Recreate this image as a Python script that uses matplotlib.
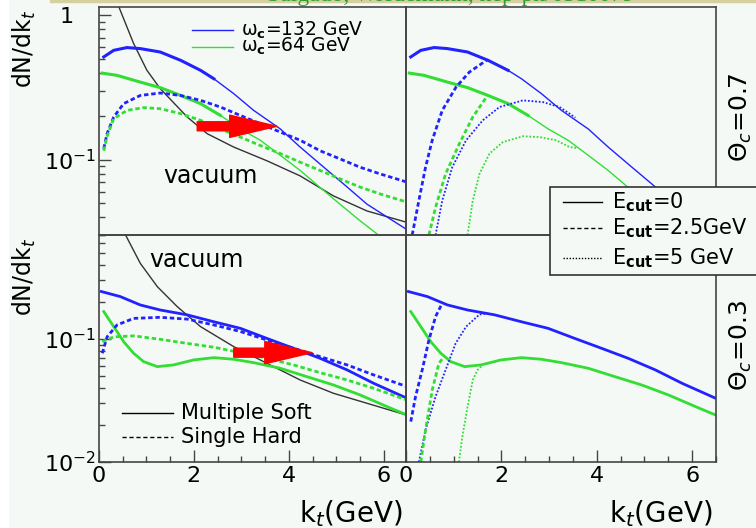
import numpy as np
import matplotlib
matplotlib.use('Agg')
import matplotlib.pyplot as plt
from matplotlib.patches import Rectangle
from matplotlib.lines import Line2D
from matplotlib.ticker import MultipleLocator, LogLocator, NullFormatter

plt.rcParams['font.family'] = ['DejaVu Sans']
plt.rcParams['mathtext.fontset'] = 'dejavusans'

# ---- data (k_t in GeV, dN/dk_t) ----
# upper row (Theta_c = 0.7)
k_vac_top = [0.42, 0.73, 1.01, 1.29, 1.86, 2.28, 2.84, 3.54, 4.24, 4.94, 5.65, 6.49]
vac_top = [1.14, 0.636, 0.415, 0.31, 0.197, 0.151, 0.122, 0.098, 0.077, 0.056, 0.044, 0.0367]
k_ms132_top = [0.10, 0.31, 0.59, 0.87, 1.29, 1.72, 2.14, 2.42, 2.84, 3.26, 3.82, 4.24, 4.66, 5.23, 5.65, 6.07, 6.47]
ms132_top = [0.514, 0.571, 0.597, 0.587, 0.556, 0.487, 0.415, 0.363, 0.286, 0.219, 0.163, 0.122, 0.093, 0.0645, 0.049, 0.040, 0.033]
k_ms64_top = [0.07, 0.38, 0.87, 1.29, 1.72, 2.14, 2.56, 2.98, 3.40, 3.82, 4.24, 4.66, 5.08, 5.50, 5.86]
ms64_top = [0.397, 0.383, 0.344, 0.315, 0.278, 0.244, 0.202, 0.163, 0.136, 0.107, 0.084, 0.064, 0.049, 0.0377, 0.0305]
k_sh132_top = [0.10, 0.17, 0.31, 0.52, 0.87, 1.29, 1.72, 2.14, 2.56, 2.98, 3.40, 3.82, 4.24, 4.66, 5.08, 5.50, 5.92, 6.5]
sh132_top = [0.119, 0.151, 0.197, 0.244, 0.278, 0.289, 0.278, 0.257, 0.231, 0.202, 0.177, 0.155, 0.136, 0.115, 0.101, 0.0885, 0.0796, 0.0696]
k_sh64_top = [0.10, 0.17, 0.31, 0.59, 0.94, 1.29, 1.72, 2.14, 2.56, 2.98, 3.40, 3.82, 4.24, 4.66, 5.08, 5.50, 5.92, 6.5]
sh64_top = [0.115, 0.145, 0.192, 0.219, 0.229, 0.225, 0.208, 0.187, 0.163, 0.143, 0.125, 0.110, 0.0958, 0.084, 0.0734, 0.0645, 0.0578, 0.0506]
k_cut25_132_top = [0.13, 0.27, 0.41, 0.55, 0.76, 1.05, 1.33, 1.70]
cut25_132_top = [0.03, 0.052, 0.0885, 0.136, 0.219, 0.318, 0.404, 0.49]
k_cut5_132_top = [0.62, 0.76, 0.97, 1.26, 1.61, 1.96, 2.45, 2.87, 3.22, 3.43, 3.55]
cut5_132_top = [0.03, 0.052, 0.0885, 0.136, 0.187, 0.231, 0.257, 0.25, 0.231, 0.208, 0.195]
k_cut25_64_top = [0.48, 0.62, 0.83, 1.12, 1.40, 1.70]
cut25_64_top = [0.03, 0.0466, 0.0795, 0.129, 0.197, 0.275]
k_cut5_64_top = [1.29, 1.40, 1.54, 1.75, 2.03, 2.45, 2.80, 3.15, 3.43, 3.60]
cut5_64_top = [0.03, 0.052, 0.0795, 0.11, 0.132, 0.145, 0.143, 0.136, 0.122, 0.12]

# lower row (Theta_c = 0.3)
k_vac_bot = [0.56, 0.87, 1.23, 1.65, 2.14, 2.84, 3.54, 4.24, 4.94, 5.65, 6.49]
vac_bot = [0.70, 0.412, 0.266, 0.183, 0.126, 0.0866, 0.0634, 0.0464, 0.0362, 0.030, 0.024]
k_ms132_bot = [0.05, 0.45, 0.87, 1.29, 1.86, 2.42, 2.98, 3.54, 4.10, 4.66, 5.23, 5.79, 6.49]
ms132_bot = [0.243, 0.221, 0.189, 0.172, 0.157, 0.138, 0.122, 0.101, 0.084, 0.0696, 0.056, 0.0436, 0.033]
k_sh132_bot = [0.07, 0.17, 0.38, 0.73, 1.29, 1.86, 2.42, 2.98, 3.54, 4.10, 4.66, 5.23, 5.79, 6.49]
sh132_bot = [0.0765, 0.104, 0.13, 0.147, 0.15, 0.145, 0.13, 0.115, 0.098, 0.084, 0.0718, 0.0615, 0.051, 0.041]
k_ms64_bot = [0.10, 0.31, 0.52, 0.73, 0.94, 1.23, 1.57, 1.99, 2.42, 2.84, 3.26, 3.82, 4.38, 4.94, 5.50, 6.07, 6.49]
ms64_bot = [0.167, 0.126, 0.095, 0.0765, 0.0654, 0.0596, 0.0615, 0.0675, 0.0705, 0.0684, 0.0642, 0.0578, 0.0494, 0.0423, 0.0351, 0.0282, 0.0241]
k_sh64_bot = [0.07, 0.31, 0.73, 1.29, 1.86, 2.42, 2.98, 3.54, 4.10, 4.66, 5.23, 5.79, 6.49]
sh64_bot = [0.095, 0.104, 0.106, 0.0994, 0.092, 0.0857, 0.0774, 0.0697, 0.0615, 0.0532, 0.0464, 0.0397, 0.0319]
k_cut25_132_bot = [0.10, 0.20, 0.34, 0.48, 0.62, 0.76]
cut25_132_bot = [0.0213, 0.034, 0.056, 0.098, 0.152, 0.195]
k_cut5_132_bot = [0.27, 0.41, 0.62, 0.83, 1.04, 1.26, 1.54, 1.70]
cut5_132_bot = [0.01, 0.0182, 0.034, 0.056, 0.092, 0.126, 0.158, 0.161]
k_cut25_64_bot = [0.31, 0.41, 0.55, 0.69, 0.80]
cut25_64_bot = [0.01, 0.0182, 0.0385, 0.0634, 0.072]
k_cut5_64_bot = [1.11, 1.18, 1.29, 1.40, 1.50, 1.60]
cut5_64_bot = [0.01, 0.016, 0.028, 0.0464, 0.056, 0.061]

# red arrows: (k start, k end, level)
arrow_top = (2.07, 3.75, 0.17)
arrow_bot = (2.84, 4.49, 0.0774)

BG = '#f4f9f6'
BLUE = '#2222ff'
GREEN = '#33dd33'
BLACK = '#333333'
DASH = (0, (1.6, 1.0))
DOT = (0, (1, 1))

W, H = 756, 528
def fx(px): return px / W
def fy(py): return 1 - py / H

fig = plt.figure(figsize=(W / 100, H / 100), dpi=100, facecolor=BG)
fig.add_artist(Rectangle((0, 0), fx(8), 1, transform=fig.transFigure, color='white', zorder=0))
fig.add_artist(Rectangle((fx(50), fy(2)), 1, 2 / H, transform=fig.transFigure, color='#d6d0a0', zorder=0))
fig.text(fx(267), fy(1.5), 'Salgado, Wiedemann, hep-ph/0310079', family='Liberation Serif',
         fontsize=17, color='#2e9e2e', va='baseline')

ax_tl = fig.add_axes([fx(99), fy(235), fx(406) - fx(99), (235 - 7) / H])
ax_tr = fig.add_axes([fx(406), fy(235), fx(716) - fx(406), (235 - 7) / H])
ax_bl = fig.add_axes([fx(99), fy(462), fx(406) - fx(99), (462 - 235) / H])
ax_br = fig.add_axes([fx(406), fy(462), fx(716) - fx(406), (462 - 235) / H])

def setup(ax, ylim, xlim, left, bottom):
    ax.set_facecolor('none')
    ax.set_yscale('log')
    ax.set_xlim(*xlim); ax.set_ylim(*ylim)
    for s in ax.spines.values():
        s.set_color('#444444'); s.set_linewidth(1.2)
    ax.tick_params(which='both', direction='in', width=1, color='#444444', labelsize=16,
                   top=False, right=False)
    ax.tick_params(which='major', length=8.5)
    ax.tick_params(axis='x', which='major', pad=3)
    ax.tick_params(axis='y', which='major', pad=2)
    ax.tick_params(which='minor', length=4.3)
    ax.xaxis.set_major_locator(MultipleLocator(2))
    ax.xaxis.set_minor_locator(MultipleLocator(0.5))
    ax.yaxis.set_minor_locator(LogLocator(base=10, subs=np.arange(2, 10)))
    ax.yaxis.set_minor_formatter(NullFormatter())
    if not bottom:
        ax.tick_params(axis='x', which='both', bottom=False, labelbottom=False)
    if not left:
        ax.tick_params(axis='y', which='both', left=False, labelleft=False)

setup(ax_tl, (0.03, 1.14), (0, 6.47), True, False)
setup(ax_tr, (0.03, 1.14), (0, 6.5), False, False)
setup(ax_bl, (0.01, 0.70), (0, 6.47), True, True)
setup(ax_br, (0.01, 0.70), (0, 6.5), False, True)
ax_tl.set_yticks([0.1, 1], labels=['$10^{-1}$', '1\u2003'])
ax_bl.set_yticks([0.01, 0.1], labels=['$10^{-2}$', '$10^{-1}$'])
ax_tl.yaxis.set_minor_locator(LogLocator(base=10, subs=np.arange(2, 10)))
ax_bl.yaxis.set_minor_locator(LogLocator(base=10, subs=np.arange(2, 10)))
ax_bl.get_yticklabels()[0].set_verticalalignment('center_baseline')

def solid_top(ax, k, v, color, kthick):
    k = np.asarray(k); v = np.asarray(v)
    ax.plot(k, v, color=color, lw=1.0)
    m = k <= kthick
    ax.plot(k[m], v[m], color=color, lw=2.2)

# upper left
ax_tl.plot(k_vac_top, vac_top, color=BLACK, lw=1.0)
solid_top(ax_tl, k_ms132_top, ms132_top, BLUE, 2.45)
solid_top(ax_tl, k_ms64_top, ms64_top, GREEN, 2.6)
ax_tl.plot(k_sh132_top, sh132_top, color=BLUE, lw=2.0, ls=DASH)
ax_tl.plot(k_sh64_top, sh64_top, color=GREEN, lw=2.0, ls=DASH)

# upper right
solid_top(ax_tr, k_ms132_top, ms132_top, BLUE, 2.4)
solid_top(ax_tr, k_ms64_top, ms64_top, GREEN, 2.8)
ax_tr.plot(k_cut25_132_top, cut25_132_top, color=BLUE, lw=2.0, ls=DASH)
ax_tr.plot(k_cut5_132_top, cut5_132_top, color=BLUE, lw=1.3, ls=DOT)
ax_tr.plot(k_cut25_64_top, cut25_64_top, color=GREEN, lw=2.0, ls=DASH)
ax_tr.plot(k_cut5_64_top, cut5_64_top, color=GREEN, lw=1.3, ls=DOT)

# lower left
ax_bl.plot(k_vac_bot, vac_bot, color=BLACK, lw=1.0)
ax_bl.plot(k_ms132_bot, ms132_bot, color=BLUE, lw=2.0)
ax_bl.plot(k_ms64_bot, ms64_bot, color=GREEN, lw=2.0)
ax_bl.plot(k_sh132_bot, sh132_bot, color=BLUE, lw=2.0, ls=DASH)
ax_bl.plot(k_sh64_bot, sh64_bot, color=GREEN, lw=2.0, ls=DASH)

# lower right
ax_br.plot(k_ms132_bot, ms132_bot, color=BLUE, lw=2.0)
ax_br.plot(k_ms64_bot, ms64_bot, color=GREEN, lw=2.0)
ax_br.plot(k_cut25_132_bot, cut25_132_bot, color=BLUE, lw=2.0, ls=DASH)
ax_br.plot(k_cut5_132_bot, cut5_132_bot, color=BLUE, lw=1.3, ls=DOT)
ax_br.plot(k_cut25_64_bot, cut25_64_bot, color=GREEN, lw=2.0, ls=DASH)
ax_br.plot(k_cut5_64_bot, cut5_64_bot, color=GREEN, lw=1.3, ls=DOT)

# arrows
for ax, (k0, k1, lev) in ((ax_tl, arrow_top), (ax_bl, arrow_bot)):
    ax.annotate('', xy=(k1, lev), xytext=(k0, lev),
                arrowprops=dict(arrowstyle='simple,head_length=3.4,head_width=1.6,tail_width=0.65',
                                color='red', shrinkA=0, shrinkB=0, mutation_scale=10))

# texts
ax_tl.text(0.362, 0.228, 'vacuum', transform=ax_tl.transAxes, fontsize=17, ha='center', va='baseline')
ax_bl.text(0.316, 0.86, 'vacuum', transform=ax_bl.transAxes, fontsize=17, ha='center', va='baseline')

for ax in (ax_tl, ax_bl):
    ax.set_ylabel('dN/dk$_t$', fontsize=17, loc='top')
    ax.yaxis.set_label_coords(-0.20, 0.99)
for ax in (ax_bl, ax_br):
    ax.set_xlabel('k$_t$(GeV)', fontsize=20, loc='right')
    ax.xaxis.set_label_coords(0.99, -0.16)

fig.text(fx(741), fy(118), r'$\Theta_c$=0.7', rotation=90, fontsize=18, ha='center', va='center')
fig.text(fx(741), fy(346), r'$\Theta_c$=0.3', rotation=90, fontsize=18, ha='center', va='center')

# in-panel legends
def key(ax, x0, x1, y, text, size, **kw):
    ax.add_line(Line2D([x0, x1], [y, y], transform=ax.transAxes, **kw))
    ax.text(x1 + 0.025, y, text, transform=ax.transAxes, fontsize=size, va='center')

key(ax_tl, 0.303, 0.436, 0.899, r'ω$_\mathbf{c}$=132 GeV', 13.5, color=BLUE, lw=1.0)
key(ax_tl, 0.303, 0.436, 0.826, r'ω$_\mathbf{c}$=64 GeV', 13.5, color=GREEN, lw=1.0)
key(ax_bl, 0.075, 0.241, 0.2145, 'Multiple Soft', 15, color='black', lw=1.0)
key(ax_bl, 0.075, 0.241, 0.1115, 'Single Hard', 15, color='black', lw=1.0, ls=(0, (3, 2)))

# E_cut box
fig.add_artist(Rectangle((fx(550), fy(275)), fx(770) - fx(550), (275 - 187) / H, transform=fig.transFigure,
                         facecolor=BG, edgecolor='#333333', lw=1.2, zorder=5))
for y, lab, ls in ((202, '=0', '-'), (228, '=2.5GeV', (0, (3, 2))), (258, '=5 GeV', (0, (1, 1.2)))):
    fig.add_artist(Line2D([fx(563), fx(602)], [fy(y), fy(y)], transform=fig.transFigure,
                          color='black', lw=1.0, ls=ls, zorder=6))
    fig.text(fx(612), fy(y), r'E$_\mathbf{cut}$' + lab, fontsize=15, va='center', zorder=6)

fig.savefig('out.png', dpi=100, facecolor=fig.get_facecolor())
